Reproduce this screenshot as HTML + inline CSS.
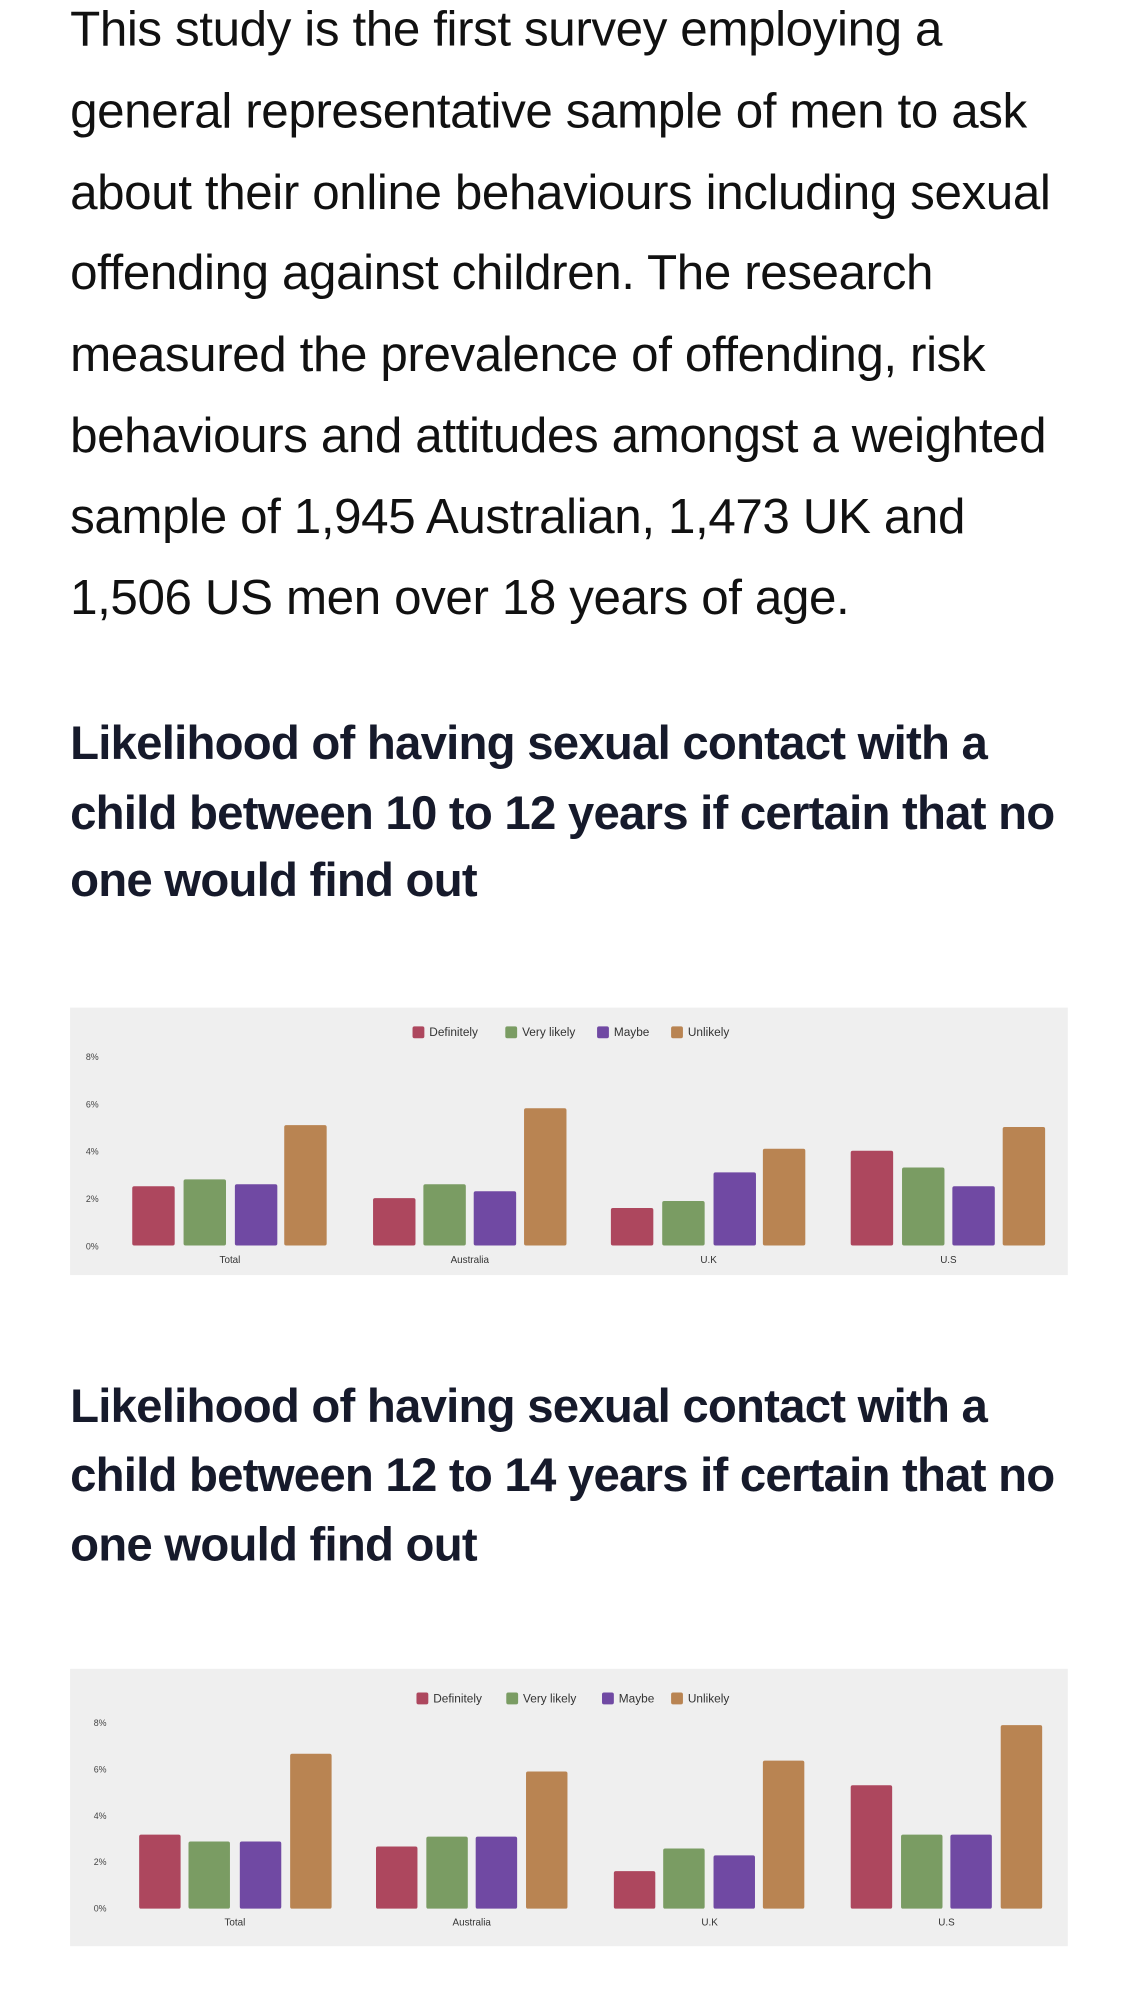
<!DOCTYPE html>
<html><head><meta charset="utf-8"><style>
html,body{margin:0;padding:0;background:#fff;}
body{width:1138px;height:2000px;position:relative;overflow:hidden;font-family:"Liberation Sans",sans-serif;}
#w{position:absolute;left:0;top:0;width:1153px;height:2030px;transform:scale(0.9869);transform-origin:0 0;}
.p{position:absolute;left:71px;font-size:50px;color:#111;white-space:nowrap;line-height:50px;letter-spacing:-0.4px}
.h{position:absolute;left:71px;font-size:48px;font-weight:bold;color:#161a2b;white-space:nowrap;line-height:50px;letter-spacing:-0.8px}
svg{position:absolute;left:0;top:0}
</style></head><body><div id="w">
<div class="p" style="top:4px">This study is the first survey employing a</div>
<div class="p" style="top:87px">general representative sample of men to ask</div>
<div class="p" style="top:170px">about their online behaviours including sexual</div>
<div class="p" style="top:251px">offending against children. The research</div>
<div class="p" style="top:334px">measured the prevalence of offending, risk</div>
<div class="p" style="top:416px">behaviours and attitudes amongst a weighted</div>
<div class="p" style="top:498px">sample of 1,945 Australian, 1,473 UK and</div>
<div class="p" style="top:580px">1,506 US men over 18 years of age.</div>

<div class="h" style="top:729px">Likelihood of having sexual contact with a</div>
<div class="h" style="top:800px">child between 10 to 12 years if certain that no</div>
<div class="h" style="top:868px">one would find out</div>

<div class="h" style="top:1401px">Likelihood of having sexual contact with a</div>
<div class="h" style="top:1471px">child between 12 to 14 years if certain that no</div>
<div class="h" style="top:1541px">one would find out</div>

<svg width="1153" height="2030" font-family="Liberation Sans, sans-serif">
<rect x="71" y="1021" width="1011" height="271" fill="#efefef"/>
<g font-size="12" fill="#333">
<rect x="418" y="1040" width="12" height="12" rx="2" fill="#ad475e"/><text x="435" y="1050">Definitely</text>
<rect x="512" y="1040" width="12" height="12" rx="2" fill="#7a9c63"/><text x="529" y="1050">Very likely</text>
<rect x="605" y="1040" width="12" height="12" rx="2" fill="#7049a3"/><text x="622" y="1050">Maybe</text>
<rect x="680" y="1040" width="12" height="12" rx="2" fill="#b98452"/><text x="697" y="1050">Unlikely</text>
</g>
<g font-size="9" fill="#444">
<text x="87" y="1074">8%</text><text x="87" y="1122">6%</text><text x="87" y="1170">4%</text><text x="87" y="1218">2%</text><text x="87" y="1266">0%</text>
</g>
<g>
<rect x="134" y="1202" width="43" height="60" rx="2" fill="#ad475e"/><rect x="186" y="1195" width="43" height="67" rx="2" fill="#7a9c63"/><rect x="238" y="1200" width="43" height="62" rx="2" fill="#7049a3"/><rect x="288" y="1140" width="43" height="122" rx="2" fill="#b98452"/>
<rect x="378" y="1214" width="43" height="48" rx="2" fill="#ad475e"/><rect x="429" y="1200" width="43" height="62" rx="2" fill="#7a9c63"/><rect x="480" y="1207" width="43" height="55" rx="2" fill="#7049a3"/><rect x="531" y="1123" width="43" height="139" rx="2" fill="#b98452"/>
<rect x="619" y="1224" width="43" height="38" rx="2" fill="#ad475e"/><rect x="671" y="1217" width="43" height="45" rx="2" fill="#7a9c63"/><rect x="723" y="1188" width="43" height="74" rx="2" fill="#7049a3"/><rect x="773" y="1164" width="43" height="98" rx="2" fill="#b98452"/>
<rect x="862" y="1166" width="43" height="96" rx="2" fill="#ad475e"/><rect x="914" y="1183" width="43" height="79" rx="2" fill="#7a9c63"/><rect x="965" y="1202" width="43" height="60" rx="2" fill="#7049a3"/><rect x="1016" y="1142" width="43" height="120" rx="2" fill="#b98452"/>
</g>
<g font-size="10" fill="#333" text-anchor="middle">
<text x="233" y="1280">Total</text><text x="476" y="1280">Australia</text><text x="718" y="1280">U.K</text><text x="961" y="1280">U.S</text>
</g>

<rect x="71" y="1691" width="1011" height="281" fill="#efefef"/>
<g font-size="12" fill="#333">
<rect x="422" y="1715" width="12" height="12" rx="2" fill="#ad475e"/><text x="439" y="1725">Definitely</text>
<rect x="513" y="1715" width="12" height="12" rx="2" fill="#7a9c63"/><text x="530" y="1725">Very likely</text>
<rect x="610" y="1715" width="12" height="12" rx="2" fill="#7049a3"/><text x="627" y="1725">Maybe</text>
<rect x="680" y="1715" width="12" height="12" rx="2" fill="#b98452"/><text x="697" y="1725">Unlikely</text>
</g>
<g font-size="9" fill="#444">
<text x="95" y="1749">8%</text><text x="95" y="1796">6%</text><text x="95" y="1843">4%</text><text x="95" y="1890">2%</text><text x="95" y="1937">0%</text>
</g>
<g>
<rect x="141" y="1859" width="42" height="75" rx="2" fill="#ad475e"/><rect x="191" y="1866" width="42" height="68" rx="2" fill="#7a9c63"/><rect x="243" y="1866" width="42" height="68" rx="2" fill="#7049a3"/><rect x="294" y="1777" width="42" height="157" rx="2" fill="#b98452"/>
<rect x="381" y="1871" width="42" height="63" rx="2" fill="#ad475e"/><rect x="432" y="1861" width="42" height="73" rx="2" fill="#7a9c63"/><rect x="482" y="1861" width="42" height="73" rx="2" fill="#7049a3"/><rect x="533" y="1795" width="42" height="139" rx="2" fill="#b98452"/>
<rect x="622" y="1896" width="42" height="38" rx="2" fill="#ad475e"/><rect x="672" y="1873" width="42" height="61" rx="2" fill="#7a9c63"/><rect x="723" y="1880" width="42" height="54" rx="2" fill="#7049a3"/><rect x="773" y="1784" width="42" height="150" rx="2" fill="#b98452"/>
<rect x="862" y="1809" width="42" height="125" rx="2" fill="#ad475e"/><rect x="913" y="1859" width="42" height="75" rx="2" fill="#7a9c63"/><rect x="963" y="1859" width="42" height="75" rx="2" fill="#7049a3"/><rect x="1014" y="1748" width="42" height="186" rx="2" fill="#b98452"/>
</g>
<g font-size="10" fill="#333" text-anchor="middle">
<text x="238" y="1951">Total</text><text x="478" y="1951">Australia</text><text x="719" y="1951">U.K</text><text x="959" y="1951">U.S</text>
</g>
</svg>
</div></body></html>
